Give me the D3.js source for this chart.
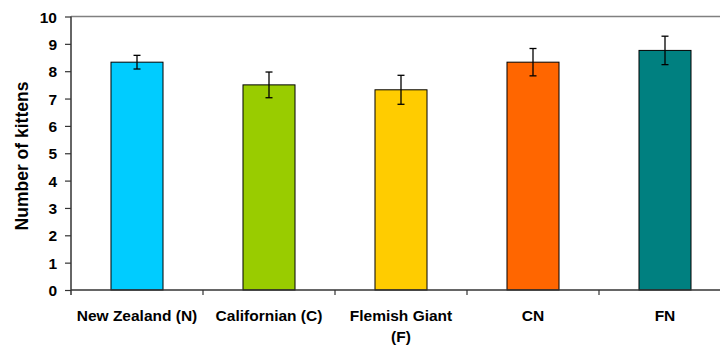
<!DOCTYPE html>
<html><head><meta charset="utf-8">
<script src="https://cdn.jsdelivr.net/npm/d3@7/dist/d3.min.js"></script>
<style>body{margin:0;background:#fff}svg{display:block}text{font-family:"Liberation Sans",Arial,sans-serif;font-weight:bold;fill:#000}</style>
</head><body><svg id="c" width="720" height="346"></svg>
<script>
const categories = ["New Zealand (N)", "Californian (C)", "Flemish Giant (F)", "CN", "FN"];
const means = [8.33, 7.50, 7.32, 8.33, 8.76];
const errors = [0.25, 0.47, 0.53, 0.50, 0.52];
const colors = ["#00CCFF", "#99CC00", "#FFCC00", "#FF6600", "#008080"];
const yTicks = [0,1,2,3,4,5,6,7,8,9,10];

const svg = d3.select("#c");
const x0 = 71, x1 = 731, yTop = 16.5, yBot = 290;
const x = d3.scaleBand().domain(categories).range([x0, x1]).padding(0);
const y = d3.scaleLinear().domain([0, 10]).range([yBot, yTop]);
const bw = x.bandwidth() * 0.394;

// top border
svg.append("line").attr("x1", x0).attr("x2", 720).attr("y1", y(10)).attr("y2", y(10))
  .attr("stroke", "#808080").attr("stroke-width", 1.5);

// bars
svg.selectAll("rect.bar").data(categories).join("rect")
  .attr("x", d => x(d) + x.bandwidth()/2 - bw/2)
  .attr("y", (d,i) => y(means[i]))
  .attr("width", bw)
  .attr("height", (d,i) => y(0) - y(means[i]))
  .attr("fill", (d,i) => colors[i])
  .attr("stroke", "#000").attr("stroke-width", 1);

// error bars
const eg = svg.append("g").attr("stroke", "#000").attr("stroke-width", 1.3);
categories.forEach((c, i) => {
  const cx = x(c) + x.bandwidth()/2;
  eg.append("line").attr("x1", cx).attr("x2", cx).attr("y1", y(means[i]+errors[i])).attr("y2", y(means[i]-errors[i]));
  eg.append("line").attr("x1", cx-3.5).attr("x2", cx+3.5).attr("y1", y(means[i]+errors[i])).attr("y2", y(means[i]+errors[i]));
  eg.append("line").attr("x1", cx-3.5).attr("x2", cx+3.5).attr("y1", y(means[i]-errors[i])).attr("y2", y(means[i]-errors[i]));
});

// y axis
const ya = d3.axisLeft(y).tickValues(yTicks).tickSize(6).tickPadding(8).tickFormat(d3.format("d"));
const gy = svg.append("g").attr("transform", `translate(${x0},0)`).call(ya);
gy.select(".domain").attr("stroke", "#333").attr("stroke-width", 1.5).attr("d", `M0,${yTop}V${yBot+5}`);
gy.selectAll(".tick line").attr("stroke", "#333").attr("stroke-width", 1.2);
gy.selectAll(".tick text").style("font-size", "15.5px").attr("dy", "0.36em");

// x axis
const xa = d3.axisBottom(x).tickSize(0).tickFormat("");
const gx = svg.append("g").attr("transform", `translate(0,${yBot})`).call(xa);
gx.select(".domain").attr("stroke", "#333").attr("stroke-width", 1.5).attr("d", `M${x0},0H720`);
// category boundary ticks
const bounds = categories.slice(1).map(c => x(c));
gx.selectAll("line.bt").data(bounds).join("line").attr("class","bt")
  .attr("x1", d => d).attr("x2", d => d).attr("y1", 0).attr("y2", 5)
  .attr("stroke", "#333").attr("stroke-width", 1.2);

// x labels with wrapping
const labelLines = {"Flemish Giant (F)": ["Flemish Giant", "(F)"]};
categories.forEach(c => {
  const lines = labelLines[c] || [c];
  const t = svg.append("text").attr("text-anchor", "middle").style("font-size", "15.5px")
    .attr("x", x(c) + x.bandwidth()/2).attr("y", 321);
  lines.forEach((l, k) => t.append("tspan").attr("x", x(c) + x.bandwidth()/2).attr("dy", k ? 21 : 0).text(l));
});

// y title
svg.append("text").attr("text-anchor", "middle").style("font-size", "17.5px")
  .attr("transform", `translate(27.5,156) rotate(-90)`).text("Number of kittens");
</script></body></html>
